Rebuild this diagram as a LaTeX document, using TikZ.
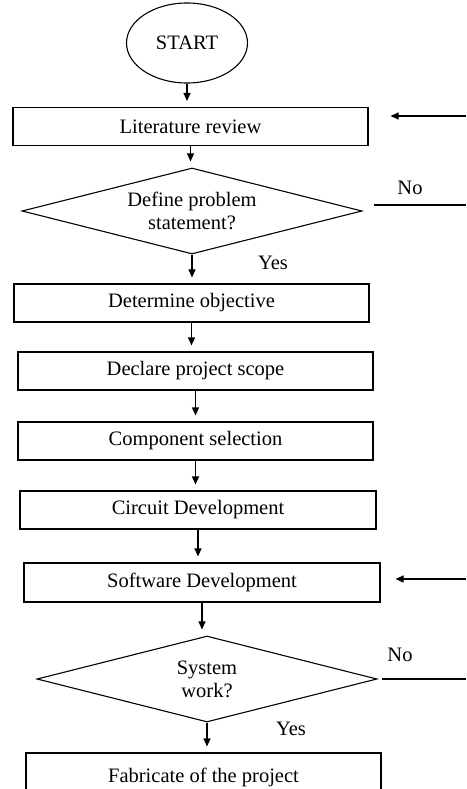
\documentclass[tikz,border=0pt]{standalone}
\usepackage{fontspec}
\setmainfont{Liberation Serif}
\usetikzlibrary{positioning, arrows.meta, shapes.geometric}

\begin{document}
\begin{tikzpicture}[
  x=1pt, y=-1pt,
  font=\fontsize{20.5}{23}\selectfont,
  box/.style={draw, line width=1.1pt, minimum width=355pt, minimum height=38pt, inner sep=0pt, align=center},
  decision/.style={draw, diamond, aspect=3.95, line width=1.1pt, minimum width=340pt, minimum height=86pt, inner sep=0pt, align=center},
  terminal/.style={draw, ellipse, line width=1.1pt, minimum width=121pt, minimum height=80pt, inner sep=0pt},
  label/.style={inner sep=0pt},
  arrow/.style={-{Triangle[length=8pt, width=7pt]}, line width=1.1pt, shorten >=6pt}
]
  \useasboundingbox (0,0) rectangle (466,789);

  % Start
  \node[terminal] (start) at (187, 43) {START};

  % First stage
  \node[box] (litrev) at (190.5, 126.5) {Literature review};
  \node[decision] (probdef) at (192, 211) {Define problem\\statement?};
  \node[box] (objective) at (191.5, 303) {Determine objective};
  \node[box] (scope) at (195.5, 371) {Declare project scope};
  \node[box] (compsel) at (195.5, 441) {Component selection};
  \node[box, minimum width=356pt] (circuit) at (198, 510) {Circuit Development};
  \node[box, minimum width=356pt, minimum height=39pt] (software) at (202, 582.5) {Software Development};
  \node[decision] (syswork) at (207, 679) {System\\work?};
  \node[box, minimum height=48pt] (fabricate) at (203.5, 777) {Fabricate of the project};

  % Labels
  \node[label] (noA) at (410, 188) {No};
  \node[label] (yesA) at (273, 263) {Yes};
  \node[label] (noB) at (400, 655) {No};
  \node[label] (yesB) at (291, 729) {Yes};

  % Loop ends at the page edge
  \coordinate (backA) at (466, 116);
  \coordinate (outA) at (466, 205);
  \coordinate (backB) at (466, 579);
  \coordinate (outB) at (466, 679);

  % Main flow
  \draw[arrow] (start.south) -- (start.south |- litrev.north);
  \draw[arrow] (litrev.south) -- (litrev.south |- probdef.north);
  \draw[arrow] (probdef.south) -- (probdef.south |- objective.north);
  \draw[arrow] (objective.south) -- (objective.south |- scope.north);
  \draw[arrow] (scope.south) -- (scope.south |- compsel.north);
  \draw[arrow] (compsel.south) -- (compsel.south |- circuit.north);
  \draw[arrow] (circuit.south) -- (circuit.south |- software.north);
  \draw[arrow] (software.south) -- (software.south |- syswork.north);
  \draw[arrow] (syswork.south) -- (syswork.south |- fabricate.north);

  % No branches and returns
  \draw[line width=1.1pt, shorten <=11pt] (probdef.east |- outA) -- (outA);
  \draw[arrow, shorten >=22pt] (backA) -- (litrev.east |- backA);
  \draw[line width=1.1pt, shorten <=4pt] (syswork.east) -- (outB);
  \draw[arrow, shorten >=15pt] (backB) -- (software.east |- backB);
\end{tikzpicture}
\end{document}
